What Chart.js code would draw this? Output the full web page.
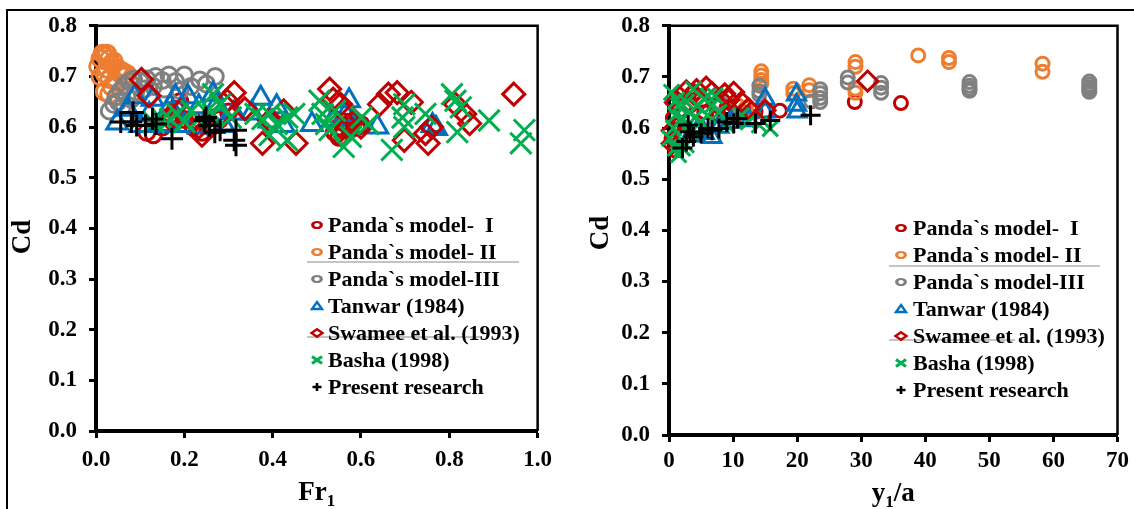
<!DOCTYPE html>
<html><head><meta charset="utf-8">
<script src="https://cdn.jsdelivr.net/npm/chart.js@4.4.1/dist/chart.umd.min.js"></script>
<style>
html,body{margin:0;padding:0;background:#fff;width:1134px;height:509px;overflow:hidden;}
#frame{position:absolute;left:6px;top:9px;width:1200px;height:600px;border-top:2px solid #000;border-left:2px solid #000;}
#c1{position:absolute;left:0;top:0;}
#c2{position:absolute;left:560px;top:0;}
</style></head><body>
<div id="frame"></div>
<canvas id="c1" width="560" height="509"></canvas>
<canvas id="c2" width="574" height="509"></canvas>
<script>
// ---------- series names / styles ----------
const seriesNames = ['Panda`s model-  I','Panda`s model- II','Panda`s model-III','Tanwar (1984)','Swamee et al. (1993)','Basha (1998)','Present research'];
const seriesColors = ['#C00000','#ED7D31','#808080','#0070C0','#C00000','#00B050','#000000'];
const seriesShapes = ['circle','circle','circle','triangle','rectRot','crossRot','cross'];

// ---------- tick labels ----------
const cdTickLabels = ['0.0','0.1','0.2','0.3','0.4','0.5','0.6','0.7','0.8'];
const frTickLabels = ['0.0','0.2','0.4','0.6','0.8','1.0'];
const yaTickLabels = ['0','10','20','30','40','50','60','70'];

// ---------- left chart: Cd vs Fr1 ----------
const frPanda1 = [[0.115,0.59],[0.13,0.585],[0.15,0.6],[0.165,0.62],[0.18,0.635],[0.2,0.615],[0.22,0.6],[0.24,0.59],[0.26,0.6],[0.28,0.615],[0.3,0.63],[0.19,0.65],[0.54,0.59],[0.55,0.6],[0.56,0.61],[0.57,0.605],[0.575,0.595],[0.58,0.61],[0.59,0.6],[0.56,0.595],[0.6,0.605],[0.55,0.58]];
const frPanda2 = [[0.005,0.72],[0.01,0.735],[0.015,0.745],[0.02,0.74],[0.025,0.745],[0.03,0.735],[0.035,0.725],[0.04,0.73],[0.05,0.715],[0.055,0.705],[0.06,0.71],[0.065,0.7],[0.07,0.705],[0.01,0.7],[0.02,0.705],[0.03,0.695],[0.035,0.68],[0.045,0.69],[0.025,0.715],[0.02,0.67],[0.03,0.665]];
const frPanda3 = [[0.03,0.632],[0.04,0.645],[0.045,0.66],[0.055,0.672],[0.065,0.683],[0.075,0.69],[0.085,0.695],[0.1,0.69],[0.115,0.695],[0.135,0.7],[0.15,0.692],[0.165,0.703],[0.18,0.69],[0.2,0.703],[0.215,0.68],[0.235,0.693],[0.25,0.685],[0.27,0.7],[0.05,0.65],[0.07,0.66],[0.09,0.67],[0.11,0.675],[0.13,0.68],[0.155,0.675],[0.19,0.672],[0.06,0.64],[0.08,0.655],[0.12,0.66]];
const frTanwar = [[0.048,0.608],[0.072,0.635],[0.088,0.66],[0.1,0.603],[0.12,0.625],[0.128,0.655],[0.145,0.605],[0.16,0.603],[0.168,0.64],[0.18,0.66],[0.2,0.603],[0.208,0.66],[0.233,0.64],[0.233,0.6],[0.265,0.665],[0.273,0.645],[0.265,0.603],[0.29,0.603],[0.313,0.628],[0.353,0.628],[0.373,0.657],[0.393,0.612],[0.409,0.64],[0.425,0.603],[0.489,0.605],[0.537,0.615],[0.565,0.625],[0.573,0.652],[0.637,0.6],[0.762,0.603],[0.77,0.597]];
const frSwamee = [[0.103,0.694],[0.12,0.662],[0.168,0.616],[0.192,0.632],[0.233,0.6],[0.24,0.584],[0.28,0.623],[0.297,0.652],[0.313,0.668],[0.337,0.636],[0.377,0.568],[0.393,0.613],[0.425,0.632],[0.453,0.568],[0.529,0.675],[0.537,0.655],[0.546,0.587],[0.554,0.645],[0.56,0.632],[0.57,0.603],[0.585,0.613],[0.6,0.6],[0.642,0.645],[0.662,0.665],[0.682,0.668],[0.698,0.574],[0.714,0.649],[0.746,0.587],[0.752,0.568],[0.76,0.6],[0.814,0.645],[0.835,0.626],[0.846,0.607],[0.946,0.665]];
const frBasha = [[0.13,0.61],[0.15,0.615],[0.168,0.616],[0.184,0.626],[0.2,0.61],[0.216,0.632],[0.233,0.616],[0.25,0.63],[0.265,0.665],[0.265,0.626],[0.281,0.645],[0.305,0.619],[0.361,0.626],[0.377,0.616],[0.393,0.626],[0.393,0.584],[0.409,0.606],[0.433,0.619],[0.433,0.574],[0.449,0.626],[0.506,0.652],[0.513,0.626],[0.521,0.606],[0.529,0.594],[0.541,0.632],[0.561,0.561],[0.577,0.581],[0.601,0.619],[0.617,0.606],[0.67,0.555],[0.694,0.619],[0.698,0.645],[0.698,0.6],[0.746,0.626],[0.806,0.665],[0.814,0.652],[0.818,0.59],[0.826,0.639],[0.89,0.613],[0.962,0.568],[0.97,0.594]];
const frPresent = [[0.056,0.61],[0.08,0.61],[0.084,0.629],[0.092,0.603],[0.112,0.603],[0.128,0.616],[0.136,0.606],[0.172,0.577],[0.245,0.613],[0.249,0.619],[0.257,0.603],[0.269,0.59],[0.281,0.594],[0.313,0.574],[0.317,0.594],[0.317,0.564]];

// ---------- right chart: Cd vs y1/a ----------
const yaPanda1 = [[29.0,0.651],[36.2,0.649],[17.3,0.634],[13.5,0.632],[0.4,0.58],[1,0.556],[1.5,0.606],[3.3,0.644],[5.5,0.631],[7.8,0.625],[10,0.613],[0.6,0.62],[2.2,0.59],[12,0.63],[9,0.64]];
const yaPanda2 = [[14.4,0.711],[14.4,0.703],[14.4,0.694],[14.4,0.687],[19.4,0.677],[19.4,0.668],[21.9,0.684],[21.9,0.674],[29.1,0.729],[29.1,0.72],[29.1,0.677],[29.1,0.669],[38.9,0.742],[43.7,0.737],[43.7,0.729],[58.3,0.726],[58.3,0.71],[10.7,0.645],[12,0.64]];
const yaPanda3 = [[14.1,0.683],[14.1,0.672],[14.1,0.665],[22.2,0.652],[23.6,0.676],[23.6,0.668],[23.6,0.659],[23.6,0.651],[27.9,0.699],[27.9,0.689],[33.1,0.688],[33.1,0.679],[33.1,0.669],[46.9,0.69],[46.9,0.683],[46.9,0.677],[46.9,0.673],[65.6,0.691],[65.6,0.685],[65.6,0.68],[65.6,0.675],[65.6,0.671],[8,0.65]];
const yaTanwar = [[15,0.657],[15,0.632],[19.9,0.665],[19.9,0.645],[20,0.632],[5.5,0.59],[6.7,0.582],[9.5,0.612],[9,0.63],[4.4,0.595],[7.8,0.602],[11,0.62],[3.3,0.585],[12.5,0.615]];
const yaSwamee = [[0.5,0.595],[0.5,0.57],[1,0.65],[1.5,0.663],[2.7,0.673],[3.8,0.667],[5,0.655],[5.8,0.68],[6.7,0.67],[7.8,0.645],[8.7,0.667],[10.1,0.67],[11.3,0.651],[12.4,0.638],[15,0.635],[31,0.692],[2,0.64],[4.3,0.675],[9.3,0.655]];
const yaBasha = [[0.1,0.58],[0.4,0.67],[0.7,0.6],[1,0.625],[1,0.561],[1.5,0.644],[1.5,0.548],[2.1,0.619],[2.1,0.561],[2.7,0.651],[2.7,0.567],[3.3,0.631],[3.3,0.593],[3.8,0.676],[4.4,0.644],[5,0.612],[5.5,0.657],[6.1,0.663],[6.7,0.644],[7.2,0.663],[7.8,0.631],[9,0.606],[11.3,0.625],[12.4,0.612],[14.1,0.606],[15.8,0.599],[1.2,0.655],[2.5,0.6],[4,0.62],[6,0.625]];
const yaPresent = [[2.1,0.561],[2.7,0.574],[3,0.606],[3.3,0.593],[3.8,0.583],[5,0.59],[6.1,0.599],[6.7,0.596],[7.8,0.599],[9,0.612],[10.1,0.609],[10.7,0.619],[13.5,0.609],[15.8,0.615],[22.1,0.625]];

// ---------- helpers ----------
const SERIF = '"Liberation Serif","Times New Roman",serif';

function makeDatasets(series, radii) {
  return series.map((pts, i) => ({
    label: seriesNames[i],
    data: pts.map(p => ({x: p[0], y: p[1]})),
    pointStyle: seriesShapes[i],
    pointRadius: radii[i],
    pointHoverRadius: radii[i],
    pointBorderWidth: 3,
    pointBorderColor: seriesColors[i],
    pointBackgroundColor: 'rgba(0,0,0,0)',
    showLine: false,
    clip: false,
    order: 7 - i
  }));
}

function drawLegendMarker(ctx, shape, color, x, y) {
  ctx.save();
  ctx.translate(x, y);
  ctx.strokeStyle = color;
  ctx.lineWidth = 2.4;
  ctx.lineJoin = 'miter';
  ctx.beginPath();
  if (shape === 'circle') {
    ctx.scale(1.45, 1);
    ctx.arc(0, 0, 3, 0, Math.PI * 2);
    ctx.lineWidth = 2.2;
  } else if (shape === 'triangle') {
    ctx.moveTo(0, -4); ctx.lineTo(5, 3); ctx.lineTo(-5, 3); ctx.closePath();
  } else if (shape === 'rectRot') {
    ctx.moveTo(0, -3.8); ctx.lineTo(5.5, 0); ctx.lineTo(0, 3.8); ctx.lineTo(-5.5, 0); ctx.closePath();
  } else if (shape === 'crossRot') {
    ctx.lineWidth = 3;
    ctx.moveTo(-5, -3.5); ctx.lineTo(5, 3.5); ctx.moveTo(-5, 3.5); ctx.lineTo(5, -3.5);
  } else if (shape === 'cross') {
    ctx.lineWidth = 2.6;
    ctx.moveTo(0, -4); ctx.lineTo(0, 4); ctx.moveTo(-4.5, 0); ctx.lineTo(4.5, 0);
  }
  ctx.stroke();
  ctx.restore();
}

function decorPlugin(o) {
  return {
    id: 'decor',
    beforeDatasetsDraw(chart) {
      const {ctx, chartArea: a} = chart;
      ctx.save();
      ctx.strokeStyle = '#000';
      ctx.lineWidth = 2.5;
      ctx.beginPath();
      ctx.moveTo(a.left, a.top); ctx.lineTo(a.right, a.top); ctx.lineTo(a.right, a.bottom);
      ctx.stroke();
      ctx.restore();
    },
    afterDraw(chart) {
      const {ctx, chartArea: a} = chart;
      ctx.save();
      // stray grey lines in legend
      ctx.strokeStyle = '#b0b0b0';
      ctx.lineWidth = 1.5;
      o.strays.forEach(s => {
        ctx.beginPath(); ctx.moveTo(s[0], s[2]); ctx.lineTo(s[1], s[2]); ctx.stroke();
      });
      // legend
      ctx.fillStyle = '#000';
      ctx.font = 'bold 22px ' + SERIF;
      ctx.textBaseline = 'middle';
      ctx.textAlign = 'left';
      seriesNames.forEach((name, i) => {
        const y = o.legY + i * o.legGap;
        drawLegendMarker(ctx, seriesShapes[i], seriesColors[i], o.markX, y);
        ctx.fillStyle = '#000';
        ctx.fillText(name, o.textX, y + 1);
      });
      // y title
      ctx.save();
      ctx.translate(o.yTitleX, o.yTitleY);
      ctx.rotate(-Math.PI / 2);
      ctx.font = 'bold 27px ' + SERIF;
      ctx.textAlign = 'center';
      ctx.textBaseline = 'alphabetic';
      ctx.fillText('Cd', 0, 0);
      ctx.restore();
      // x title with subscript
      const parts = o.xTitle;
      const big = 'bold 27px ' + SERIF, small = 'bold 17px ' + SERIF;
      let w = 0;
      parts.forEach(p => { ctx.font = p.sub ? small : big; w += ctx.measureText(p.t).width; });
      let x = (a.left + a.right) / 2 - w / 2;
      const base = a.bottom + o.xTitleOff;
      ctx.textAlign = 'left';
      ctx.textBaseline = 'alphabetic';
      parts.forEach(p => {
        ctx.font = p.sub ? small : big;
        ctx.fillText(p.t, x, p.sub ? base + 6 : base);
        x += ctx.measureText(p.t).width;
      });
      ctx.restore();
    }
  };
}

function makeChart(canvas, datasets, xs, lay, deco) {
  const tickFont = {family: SERIF, size: 23, weight: 'bold'};
  const gridOpts = {display: true, drawOnChartArea: false, drawTicks: true, tickLength: 7, tickWidth: 3, tickColor: '#000'};
  return new Chart(canvas, {
    type: 'scatter',
    data: {datasets},
    options: {
      responsive: false, animation: false, devicePixelRatio: 1, events: [],
      layout: {padding: {left: 0, right: lay.padRight, top: lay.padTop, bottom: 0}},
      plugins: {legend: {display: false}, tooltip: {enabled: false}},
      scales: {
        x: {
          type: 'linear', min: xs.min, max: xs.max,
          ticks: {stepSize: xs.step, autoSkip: false, maxRotation: 0, font: tickFont, color: '#000', padding: lay.xPad,
            callback: (v) => { const i = Math.round((v - xs.min) / xs.step); return xs.labels[i]; }},
          grid: gridOpts,
          border: {display: true, color: '#000', width: 4},
          afterFit(s) { s.height = lay.xH; }
        },
        y: {
          type: 'linear', min: 0, max: 0.8,
          ticks: {stepSize: 0.1, autoSkip: false, font: tickFont, color: '#000', padding: 12,
            callback: (v) => cdTickLabels[Math.round(v * 10)]},
          grid: gridOpts,
          border: {display: true, color: '#000', width: 4},
          afterFit(s) { s.width = lay.yW; }
        }
      }
    },
    plugins: [decorPlugin(deco)]
  });
}

makeChart(document.getElementById('c1'),
  makeDatasets([frPanda1, frPanda2, frPanda3, frTanwar, frSwamee, frBasha, frPresent], [8, 8.5, 8, 12, 11, 15, 11]),
  {min: 0, max: 1, step: 0.2, labels: frTickLabels},
  {padRight: 16, padTop: 21, xH: 78, yW: 96, xPad: 8},
  {legY: 225, legGap: 27, markX: 317, textX: 328, strays: [[307, 519, 262], [307, 482, 337]],
   yTitleX: 30, yTitleY: 237, xTitle: [{t: 'Fr'}, {t: '1', sub: true}], xTitleOff: 69});

makeChart(document.getElementById('c2'),
  makeDatasets([yaPanda1, yaPanda2, yaPanda3, yaTanwar, yaSwamee, yaBasha, yaPresent], [6.5, 6.5, 6.5, 10.5, 10, 11, 10]),
  {min: 0, max: 70, step: 10, labels: yaTickLabels},
  {padRight: 16, padTop: 19, xH: 74, yW: 109, xPad: 5},
  {legY: 228, legGap: 27, markX: 341, textX: 353, strays: [[329, 540, 266], [329, 455, 340]],
   yTitleX: 48, yTitleY: 233, xTitle: [{t: 'y'}, {t: '1', sub: true}, {t: '/a'}], xTitleOff: 66});
</script>
</body></html>
